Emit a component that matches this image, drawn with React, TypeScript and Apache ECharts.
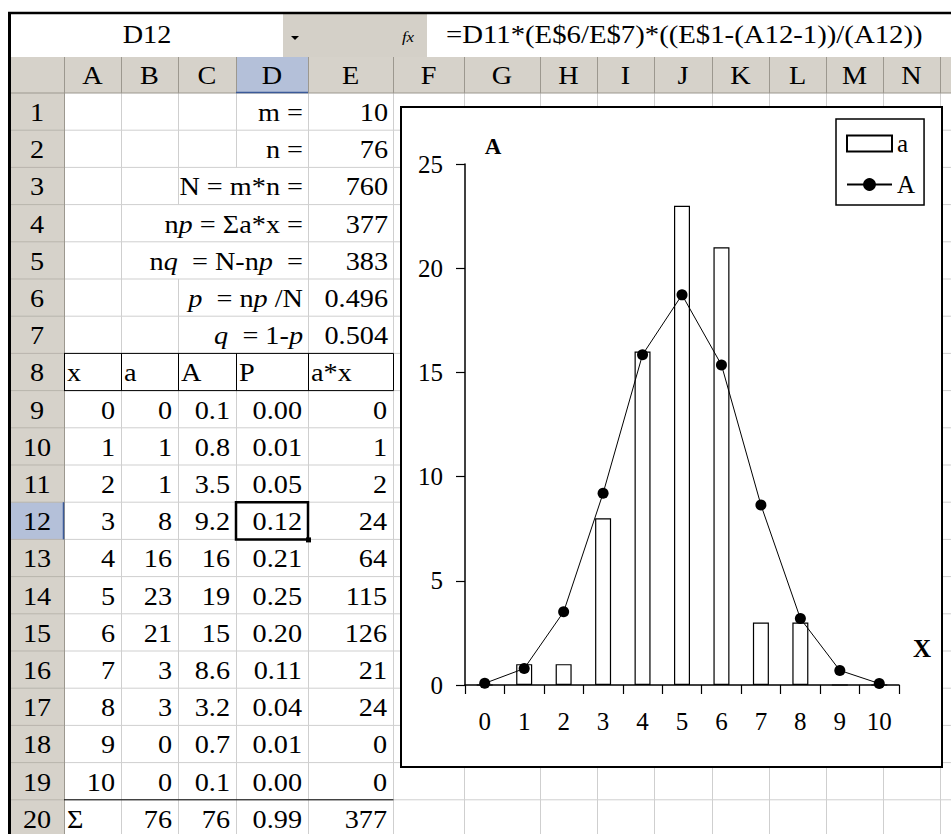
import { useEffect, useRef } from "react";
import * as echarts from "echarts";

const FONT = '"Liberation Serif", "Times New Roman", serif';

// Worksheet contents
const nameBoxText = "D12";
const formulaText = "=D11*(E$6/E$7)*((E$1-(A12-1))/(A12))";
const columnLetters = ["A", "B", "C", "D", "E", "F", "G", "H", "I", "J", "K", "L", "M", "N", ""];
const paramLabels = [
  "m =",
  "n =",
  "N = m*n =",
  "n{i|p} = Σa*x =",
  "n{i|q}  = N-n{i|p}  =",
  "{i|p}  = n{i|p} /N",
  "{i|q}  = 1-{i|p}",
];
const paramValues = ["10", "76", "760", "377", "383", "0.496", "0.504"];
const tableHeaders = ["x", "a", "A", "P", "a*x"];
const xValues = [0, 1, 2, 3, 4, 5, 6, 7, 8, 9, 10];
const aCounts = [0, 1, 1, 8, 16, 23, 21, 3, 3, 0, 0];
const aTheory = [0.08, 0.79, 3.51, 9.2, 15.85, 18.72, 15.36, 8.64, 3.19, 0.7, 0.069];
const pValues = ["0.00", "0.01", "0.05", "0.12", "0.21", "0.25", "0.20", "0.11", "0.04", "0.01", "0.00"];
const axValues = [0, 1, 2, 24, 64, 115, 126, 21, 24, 0, 0];
const sumRow = ["Σ", "76", "76", "0.99", "377"];

// Sheet geometry
const columnEdges = [64, 121, 178, 236, 308, 393, 464, 540, 597, 654, 712, 769, 826, 883, 940, 997];
const HEADER_TOP = 57;
const HEADER_BOTTOM = 93;
const ROW_H = 37.2;
const ROW_COUNT = 20;
const rowTop = (r: number) => HEADER_BOTTOM + (r - 1) * ROW_H;
const SEL_COL = 3; // D
const SEL_ROW = 12;

// Overflowing labels in rows 3..7 hide these inner gridlines (row -> column edge x)
const hiddenEdges: Record<number, number[]> = {
  3: [236],
  4: [178, 236],
  5: [178, 236],
  6: [236],
  7: [236],
};

const formatA = (v: number) => (v < 10 ? v.toFixed(1) : v.toFixed(0));

const SHEET_Z = -5;
const FS = 25;
const SHEET_STRETCH = 1.13;

function line(x1: number, y1: number, x2: number, y2: number, stroke: string, w = 1, z = SHEET_Z) {
  return { type: "line", z, silent: true, shape: { x1, y1, x2, y2 }, style: { stroke, lineWidth: w } };
}
function rect(x: number, y: number, width: number, height: number, fill: string, stroke?: string, w = 1, z = SHEET_Z) {
  return {
    type: "rect",
    z,
    silent: true,
    shape: { x, y, width, height },
    style: { fill, stroke: stroke || "none", lineWidth: stroke ? w : 0 },
  };
}
function text(x: number, y: number, t: string, align: string, extra: any = {}) {
  return {
    type: "text",
    z: extra.z ?? SHEET_Z,
    silent: true,
    x,
    y,
    scaleX: extra.scaleX ?? SHEET_STRETCH,
    style: {
      text: t,
      fill: "#000",
      fontSize: extra.fontSize ?? FS,
      fontFamily: FONT,
      fontStyle: extra.fontStyle ?? "normal",
      fontWeight: extra.fontWeight ?? "normal",
      align,
      verticalAlign: "middle",
      rich: {
        i: { fontStyle: "italic", fontSize: extra.fontSize ?? FS, fontFamily: FONT, fill: "#000" },
      },
    },
  };
}

function buildSheet() {
  const els: any[] = [];
  const W = 951;
  const H = 834;
  els.push(rect(0, 0, W, H, "#ffffff"));

  // formula bar
  els.push(rect(10, 14, 273, 43, "#ffffff"));
  els.push(rect(283, 14, 144, 43, "#d4d0c8"));
  els.push(rect(427, 14, W - 427, 43, "#ffffff"));
  els.push({
    type: "polygon",
    z: SHEET_Z,
    silent: true,
    shape: { points: [[291, 36], [299, 36], [295, 40]] },
    style: { fill: "#000" },
  });
  els.push(text(408, 37, "fx", "center", { fontSize: 15, fontStyle: "italic" }));
  els.push(text(147, 35, nameBoxText, "center"));
  els.push(text(446, 35, formulaText, "left", { scaleX: 1.15 }));

  // header strip and row header column
  els.push(rect(10, HEADER_TOP, W - 10, HEADER_BOTTOM - HEADER_TOP, "#d6d2ca"));
  els.push(rect(10, HEADER_BOTTOM, 54, H - HEADER_BOTTOM, "#d6d2ca"));
  els.push(
    rect(columnEdges[SEL_COL], HEADER_TOP, columnEdges[SEL_COL + 1] - columnEdges[SEL_COL], HEADER_BOTTOM - HEADER_TOP, "#b4c0d9")
  );
  els.push(rect(10, rowTop(SEL_ROW), 54, ROW_H, "#b4c0d9"));

  // cell gridlines
  const grid = "#cfcfcf";
  for (let r = 1; r <= ROW_COUNT; r++) {
    const y = rowTop(r + 1);
    els.push(line(64, y, W, y, grid));
  }
  for (const x of columnEdges.slice(1)) {
    for (let r = 1; r <= ROW_COUNT + 1; r++) {
      if ((hiddenEdges[r] || []).includes(x)) continue;
      els.push(line(x + 0.5, rowTop(r), x + 0.5, rowTop(r + 1), grid));
    }
  }

  // header separators
  const hdr = "#9c988f";
  for (const x of columnEdges) {
    els.push(line(x + 0.5, HEADER_TOP, x + 0.5, HEADER_BOTTOM, hdr));
  }
  els.push(line(10, HEADER_BOTTOM, W, HEADER_BOTTOM, hdr));
  for (let r = 1; r <= ROW_COUNT + 1; r++) {
    els.push(line(10, rowTop(r), 64, rowTop(r), "#b9b5ad"));
  }
  els.push(line(64.5, HEADER_TOP, 64.5, H, hdr));
  els.push(line(columnEdges[SEL_COL], HEADER_BOTTOM - 0.5, columnEdges[SEL_COL + 1], HEADER_BOTTOM - 0.5, "#3b5a98", 1.5));
  els.push(line(63.5, rowTop(SEL_ROW), 63.5, rowTop(SEL_ROW + 1), "#3b5a98", 1.5));

  // header labels
  columnLetters.forEach((c, i) => {
    if (!c) return;
    els.push(text((columnEdges[i] + columnEdges[i + 1]) / 2, 76, c, "center"));
  });
  for (let r = 1; r <= ROW_COUNT; r++) {
    els.push(text(37, rowTop(r) + ROW_H / 2 + 1, String(r), "center"));
  }

  // parameter block (rows 1..7)
  paramLabels.forEach((lab, i) => {
    const cy = rowTop(i + 1) + ROW_H / 2 + 1;
    els.push(text(columnEdges[4] - 5, cy, lab, "right"));
    els.push(text(columnEdges[5] - 5, cy, paramValues[i], "right"));
  });

  // table header row 8 with borders
  const y8 = rowTop(8);
  tableHeaders.forEach((h, i) => {
    els.push(text(columnEdges[i] + 3, y8 + ROW_H / 2 + 1, h, "left"));
  });
  els.push(line(64, y8, columnEdges[5] + 0.5, y8, "#000"));
  els.push(line(64, y8 + ROW_H, columnEdges[5] + 0.5, y8 + ROW_H, "#000"));
  for (let i = 0; i <= 5; i++) {
    els.push(line(columnEdges[i] + 0.5, y8, columnEdges[i] + 0.5, y8 + ROW_H, "#000"));
  }

  // data rows 9..19
  xValues.forEach((x, k) => {
    const cy = rowTop(9 + k) + ROW_H / 2 + 1;
    const cells = [String(x), String(aCounts[k]), formatA(aTheory[k]), pValues[k], String(axValues[k])];
    cells.forEach((c, i) => els.push(text(columnEdges[i + 1] - 6, cy, c, "right")));
  });

  // totals row 20
  const y20 = rowTop(20);
  els.push(line(64, y20, columnEdges[5] + 0.5, y20, "#000"));
  sumRow.forEach((c, i) => {
    const cy = y20 + ROW_H / 2 + 1;
    if (i === 0) els.push(text(columnEdges[0] + 3, cy, c, "left"));
    else els.push(text(columnEdges[i + 1] - 6, cy, c, "right"));
  });

  // active cell frame and fill handle
  const sx = columnEdges[SEL_COL];
  const sw = columnEdges[SEL_COL + 1] - sx;
  els.push(rect(sx, rowTop(SEL_ROW), sw, ROW_H, "none", "#000", 2.5));
  els.push(rect(sx + sw - 2, rowTop(SEL_ROW) + ROW_H - 2, 5, 5, "#000"));

  // window frame
  els.push(line(8, 13, W, 13, "#000", 2.5));
  els.push(line(9.5, 12, 9.5, H, "#000", 3));

  // embedded chart frame
  els.push(rect(401, 107, 541, 660, "#ffffff", "#000", 2, -4));
  els.push(text(493, 146, "A", "center", { fontWeight: "bold", fontSize: 23, z: 5, scaleX: 1 }));
  els.push(text(922, 648, "X", "center", { fontWeight: "bold", fontSize: 25, z: 5, scaleX: 1 }));
  return els;
}

export default function App() {
  const ref = useRef<HTMLDivElement>(null);
  useEffect(() => {
    document.body.style.margin = "0";
    if (!ref.current) return;
    const chart = echarts.init(ref.current, undefined, { renderer: "svg" });
    chart.setOption({
      animation: false,
      backgroundColor: "#ffffff",
      textStyle: { fontFamily: FONT },
      graphic: { elements: buildSheet() },
      grid: { left: 465, top: 164, width: 434, height: 521, containLabel: false },
      legend: {
        data: [
          { name: "a", icon: "rect" },
          { name: "A" },
        ],
        orient: "vertical",
        left: 836,
        top: 119,
        padding: [12, 9, 8, 10],
        itemWidth: 45,
        itemHeight: 16,
        itemGap: 16,
        backgroundColor: "#ffffff",
        borderColor: "#000",
        borderWidth: 1.5,
        borderRadius: 0,
        textStyle: { fontSize: FS, fontFamily: FONT, color: "#000" },
      },
      xAxis: {
        type: "category",
        data: xValues.map(String),
        boundaryGap: true,
        axisLine: { lineStyle: { color: "#000", width: 1.5 } },
        axisTick: { show: true, length: 9, lineStyle: { color: "#000", width: 1.2 } },
        axisLabel: { color: "#000", fontSize: FS, fontFamily: FONT, margin: 24, interval: 0 },
        splitLine: { show: false },
      },
      yAxis: {
        type: "value",
        min: 0,
        max: 25,
        interval: 5,
        axisLine: { show: true, lineStyle: { color: "#000", width: 1.5 } },
        axisTick: { show: true, length: 9, lineStyle: { color: "#000", width: 1.2 } },
        axisLabel: { color: "#000", fontSize: FS, fontFamily: FONT, margin: 22 },
        splitLine: { show: false },
      },
      series: [
        {
          name: "a",
          type: "bar",
          data: aCounts,
          barWidth: 16,
          itemStyle: { color: "#ffffff", borderColor: "#000", borderWidth: 1.2 },
          z: 2,
        },
        {
          name: "A",
          type: "line",
          data: aTheory,
          symbol: "circle",
          symbolSize: 11,
          itemStyle: { color: "#000" },
          lineStyle: { color: "#000", width: 1 },
          z: 3,
        },
      ],
    });
    return () => chart.dispose();
  }, []);
  return <div ref={ref} style={{ width: 951, height: 834 }} />;
}
